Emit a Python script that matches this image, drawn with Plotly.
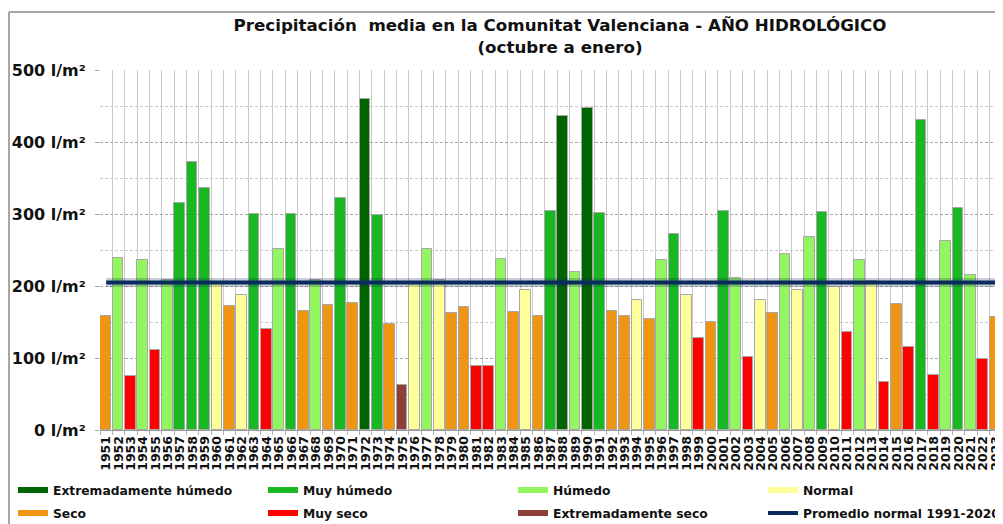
import plotly.graph_objects as go

years = list(range(1951, 2024))
values = [158, 239, 75, 237, 111, 209, 315, 373, 337, 204,
          172, 188, 300, 141, 252, 300, 166, 209, 174, 323,
          177, 460, 299, 147, 63, 204, 251, 208, 162, 171,
          89, 89, 238, 164, 195, 158, 304, 437, 219, 447,
          302, 165, 158, 181, 155, 237, 273, 188, 128, 150,
          305, 211, 102, 181, 162, 245, 194, 268, 303, 199,
          136, 237, 207, 67, 175, 115, 431, 77, 263, 309,
          216, 99, 157]
classes = ["S", "H", "MS", "H", "MS", "H", "MH", "MH", "MH", "N",
           "S", "N", "MH", "MS", "H", "MH", "S", "H", "S", "MH",
           "S", "EH", "MH", "S", "ES", "N", "H", "N", "S", "S",
           "MS", "MS", "H", "S", "N", "S", "MH", "EH", "H", "EH",
           "MH", "S", "S", "N", "S", "H", "MH", "N", "MS", "S",
           "MH", "H", "MS", "N", "S", "H", "N", "H", "MH", "N",
           "MS", "H", "N", "MS", "S", "MS", "MH", "MS", "H", "MH",
           "H", "MS", "S"]
class_codes = ["EH", "MH", "H", "N", "S", "MS", "ES"]
class_names = ["Extremadamente húmedo", "Muy húmedo", "Húmedo", "Normal",
               "Seco", "Muy seco", "Extremadamente seco"]
class_colors = ["#006400", "#18b823", "#93f55f", "#ffff99",
                "#ef9512", "#ff0000", "#8c3f36"]
average_name = "Promedio normal 1991-2020"
average_value = 205
y_ticks = [0, 100, 200, 300, 400, 500]
y_tick_labels = [f"{v} l/m²" for v in y_ticks]

color_map = dict(zip(class_codes, class_colors))
bar_colors = [color_map[c] for c in classes]

FONT = "DejaVu Sans"
NAVY = "#0b2a5e"

fig = go.Figure()

fig.add_trace(go.Bar(
    x=years, y=values,
    marker=dict(color=bar_colors, line=dict(color="#a8a8a8", width=1)),
    width=0.86, offset=-0.47,
    showlegend=False, hoverinfo="x+y",
))

# average line with soft shadow
fig.add_trace(go.Scatter(
    x=years, y=[average_value] * len(years), mode="lines",
    line=dict(color="rgba(10,30,80,0.22)", width=9),
    showlegend=False, hoverinfo="skip",
))
fig.add_trace(go.Scatter(
    x=years, y=[average_value] * len(years), mode="lines",
    line=dict(color=NAVY, width=4),
    showlegend=False, hoverinfo="skip",
))

# page body adds an 8px offset; work in screenshot pixels and convert
OFF = 8
W, H = 1003 - OFF, 524 - OFF
ml = 100 - OFF
mt = 70 - OFF
mb = H - (430 - OFF)
mr = 0
pw = W - ml - mr
ph = H - mt - mb

def px_x(p):  # screenshot px -> paper x
    return (p - OFF - ml) / pw

def px_y(p):  # screenshot px -> paper y
    return (H - mb - (p - OFF)) / ph

# legend entries: one legend per entry, 4 columns x 2 rows
legend_names = class_names + [average_name]
legend_colors = class_colors + [NAVY]
legend_layouts = {}
for i, (name, col) in enumerate(zip(legend_names, legend_colors)):
    lid = "legend" if i == 0 else f"legend{i + 1}"
    fig.add_trace(go.Scatter(
        x=[None], y=[None], mode="lines", name=name,
        line=dict(color=col, width=6 if i < 7 else 4),
        legend=lid,
    ))
    row, colno = divmod(i, 4)
    legend_layouts[lid] = dict(
        orientation="v",
        xref="paper", yref="paper",
        xanchor="left", yanchor="middle",
        x=px_x(13 + 250 * colno), y=px_y(490 + 23 * row),
        font=dict(family=FONT, size=12.3, weight="bold", color="#111111"),
        itemwidth=30, bgcolor="rgba(0,0,0,0)",
    )

fig.update_layout(
    width=W, height=H,
    margin=dict(l=ml, r=mr, t=mt, b=mb, autoexpand=False),
    paper_bgcolor="white", plot_bgcolor="white",
    font=dict(family=FONT, color="#111111"),
    title=dict(
        text="Precipitación  media en la Comunitat Valenciana - AÑO HIDROLÓGICO<br>(octubre a enero)",
        font=dict(family=FONT, size=16.7, weight="bold", color="#111111"),
        x=px_x(560), xref="paper", xanchor="center",
        y=1 - 23 / H, yref="container", yanchor="top",
    ),
    bargap=0,
    showlegend=True,
    xaxis=dict(
        range=[1950.5, 2023.6],
        automargin=False,
        tickmode="array", tickvals=years, ticktext=[str(y) for y in years],
        tickangle=-90,
        tickfont=dict(family=FONT, size=12.5, weight="bold", color="#111111"),
        showgrid=False, zeroline=False,
        showline=True, linecolor="#9a9a9a", linewidth=1,
        ticks="", ticklen=0,
        minor=dict(tickmode="linear", tick0=1950.5, dtick=1,
                   showgrid=True, gridcolor="#c8c8c8", gridwidth=1,
                   ticks="outside", ticklen=4, tickcolor="#b0b0b0"),
    ),
    yaxis=dict(
        range=[0, 500.5],
        automargin=False,
        tickmode="array", tickvals=y_ticks, ticktext=y_tick_labels,
        tickfont=dict(family=FONT, size=16, weight="bold", color="#111111"),
        ticklabelstandoff=6,
        showgrid=True, gridcolor="#a8a8a8", griddash="3px,2px", gridwidth=1,
        zeroline=False,
        ticks="outside", ticklen=4, tickcolor="#a0a0a0",
        minor=dict(tickmode="linear", tick0=0, dtick=50,
                   showgrid=True, gridcolor="#c8c8c8", griddash="3px,2px",
                   ticks=""),
    ),
    shapes=[
        dict(type="line", xref="paper", yref="paper",
             x0=px_x(9), x1=px_x(1003), y0=px_y(12), y1=px_y(12),
             line=dict(color="#8a8a8a", width=1.5)),
        dict(type="line", xref="paper", yref="paper",
             x0=px_x(9), x1=px_x(9), y0=px_y(12), y1=px_y(524),
             line=dict(color="#8a8a8a", width=1.5)),
    ],
    **legend_layouts,
)

fig.write_html("out.html")
